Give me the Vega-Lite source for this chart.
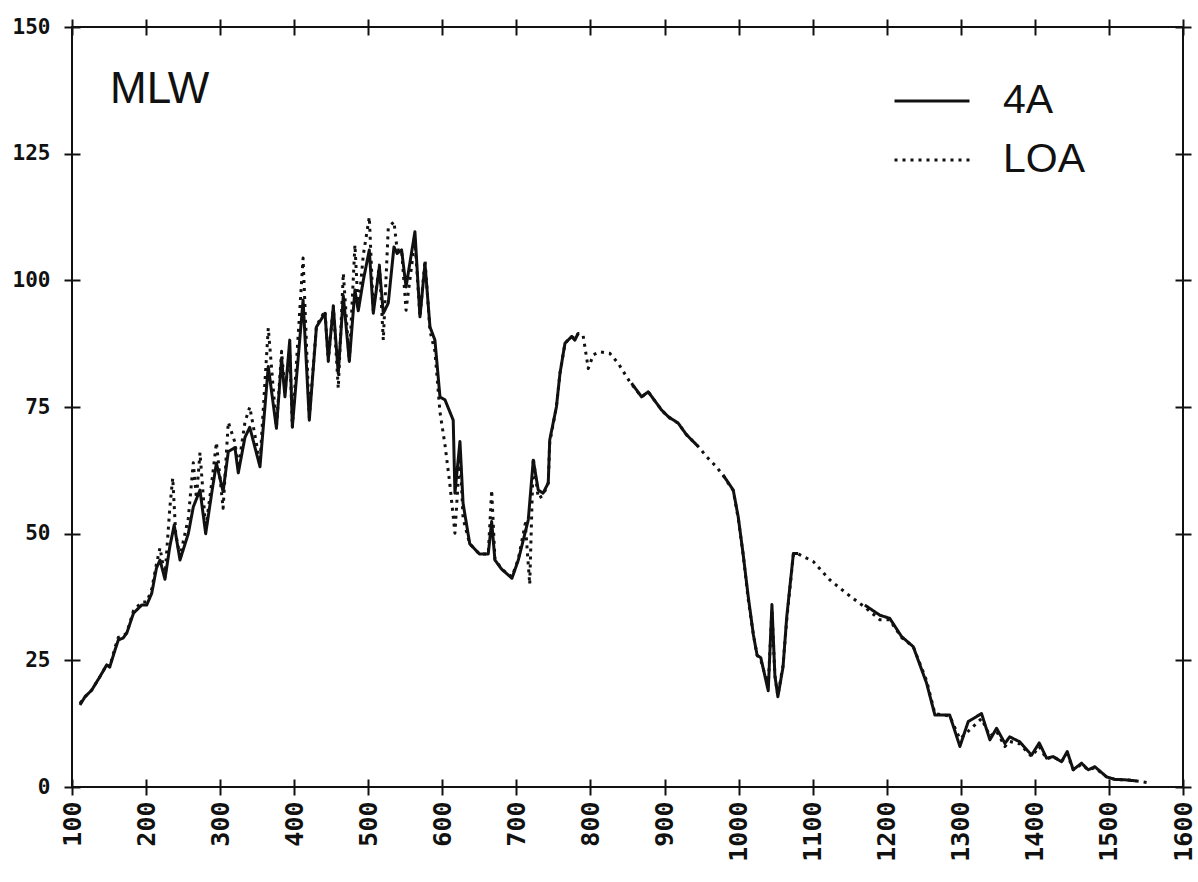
{
  "$schema": "https://vega.github.io/schema/vega-lite/v6.json",
  "width": 1111,
  "height": 760,
  "autosize": {"type": "none"},
  "padding": {"left": 72, "top": 27, "right": 15, "bottom": 95},
  "background": "white",
  "config": {
    "view": {"stroke": "#111", "strokeWidth": 2},
    "axis": {"grid": false, "domain": false, "title": null, "tickColor": "#111", "tickWidth": 2, "tickSize": 16, "labelColor": "#111", "labelFont": "DejaVu Sans Mono", "labelFontWeight": "bold", "labelFlush": false, "labelOverlap": false}
  },
  "title": {"text": "MLW", "anchor": "start", "frame": "group", "orient": "top", "offset": 0, "dx": 38, "dy": 131, "baseline": "alphabetic", "font": "Liberation Sans", "fontSize": 44, "fontWeight": "normal", "color": "#111"},
  "data": {"values": [
    {"w":110.8,"v":16.2,"s":"4A"},{"w":117.5,"v":17.8,"s":"4A"},{"w":126.5,"v":19.1,"s":"4A"},{"w":137.8,"v":21.8,"s":"4A"},{"w":146.8,"v":24.1,"s":"4A"},{"w":151,"v":23.7,"s":"4A"},{"w":158,"v":27,"s":"4A"},{"w":162.5,"v":29,"s":"4A"},{"w":169,"v":29.4,"s":"4A"},{"w":174,"v":30.4,"s":"4A"},{"w":183,"v":34.3,"s":"4A"},{"w":194,"v":35.9,"s":"4A"},{"w":200.8,"v":35.9,"s":"4A"},{"w":207.6,"v":38.2,"s":"4A"},{"w":214,"v":43.2,"s":"4A"},{"w":218.8,"v":44.8,"s":"4A"},{"w":225.5,"v":41,"s":"4A"},{"w":232,"v":47.4,"s":"4A"},{"w":238,"v":51.7,"s":"4A"},{"w":245.8,"v":44.8,"s":"4A"},{"w":257,"v":50,"s":"4A"},{"w":263.8,"v":55.3,"s":"4A"},{"w":272.8,"v":58.6,"s":"4A"},{"w":280.5,"v":50,"s":"4A"},{"w":288.6,"v":58,"s":"4A"},{"w":295,"v":63.9,"s":"4A"},{"w":304,"v":58.3,"s":"4A"},{"w":311,"v":66.2,"s":"4A"},{"w":320,"v":67,"s":"4A"},{"w":324.5,"v":62,"s":"4A"},{"w":333.5,"v":69,"s":"4A"},{"w":340,"v":71,"s":"4A"},{"w":353.8,"v":63.2,"s":"4A"},{"w":365,"v":83,"s":"4A"},{"w":376,"v":70.8,"s":"4A"},{"w":383,"v":84.6,"s":"4A"},{"w":387.5,"v":77,"s":"4A"},{"w":394,"v":88.2,"s":"4A"},{"w":397.5,"v":71.1,"s":"4A"},{"w":412,"v":96.1,"s":"4A"},{"w":420.4,"v":72.4,"s":"4A"},{"w":430,"v":90.8,"s":"4A"},{"w":441.6,"v":93.5,"s":"4A"},{"w":446,"v":84.3,"s":"4A"},{"w":452.8,"v":94.8,"s":"4A"},{"w":459.5,"v":81.6,"s":"4A"},{"w":466.3,"v":97,"s":"4A"},{"w":474.4,"v":84,"s":"4A"},{"w":482,"v":98.1,"s":"4A"},{"w":486.5,"v":94,"s":"4A"},{"w":493.3,"v":100,"s":"4A"},{"w":501.4,"v":106,"s":"4A"},{"w":506.8,"v":93.5,"s":"4A"},{"w":515,"v":102.7,"s":"4A"},{"w":520.3,"v":93.5,"s":"4A"},{"w":527,"v":95.5,"s":"4A"},{"w":534.7,"v":106.6,"s":"4A"},{"w":539,"v":105.3,"s":"4A"},{"w":545,"v":106,"s":"4A"},{"w":551,"v":98.7,"s":"4A"},{"w":563,"v":109.6,"s":"4A"},{"w":569.8,"v":92.8,"s":"4A"},{"w":576.6,"v":103.3,"s":"4A"},{"w":583.3,"v":90.8,"s":"4A"},{"w":590,"v":88.2,"s":"4A"},{"w":596.8,"v":77,"s":"4A"},{"w":603.6,"v":76.4,"s":"4A"},{"w":614.7,"v":72.4,"s":"4A"},{"w":617,"v":58,"s":"4A"},{"w":623.8,"v":68.2,"s":"4A"},{"w":628,"v":56,"s":"4A"},{"w":637,"v":48,"s":"4A"},{"w":650,"v":46,"s":"4A"},{"w":662,"v":46,"s":"4A"},{"w":666.6,"v":52.4,"s":"4A"},{"w":671,"v":44.8,"s":"4A"},{"w":680,"v":43,"s":"4A"},{"w":694,"v":41.2,"s":"4A"},{"w":702.6,"v":44.8,"s":"4A"},{"w":716,"v":52.7,"s":"4A"},{"w":722.8,"v":64.5,"s":"4A"},{"w":729.5,"v":58.6,"s":"4A"},{"w":736,"v":58,"s":"4A"},{"w":743,"v":60,"s":"4A"},{"w":745,"v":68.5,"s":"4A"},{"w":754,"v":75,"s":"4A"},{"w":758.8,"v":81.6,"s":"4A"},{"w":765.6,"v":87.6,"s":"4A"},{"w":774.6,"v":88.9,"s":"4A"},{"w":779,"v":88.2,"s":"4A"},{"w":783.5,"v":89.6,"s":"4A"},{"w":800,"v":null,"s":"4A"},{"w":855.5,"v":79.7,"s":"4A"},{"w":869,"v":77,"s":"4A"},{"w":878,"v":78,"s":"4A"},{"w":896,"v":74.4,"s":"4A"},{"w":905,"v":73.1,"s":"4A"},{"w":918.5,"v":71.8,"s":"4A"},{"w":929.8,"v":69.5,"s":"4A"},{"w":945.5,"v":67.2,"s":"4A"},{"w":960,"v":null,"s":"4A"},{"w":979,"v":61.6,"s":"4A"},{"w":992.8,"v":58.6,"s":"4A"},{"w":999.5,"v":53.3,"s":"4A"},{"w":1006,"v":46.1,"s":"4A"},{"w":1013,"v":37.6,"s":"4A"},{"w":1020,"v":30,"s":"4A"},{"w":1025,"v":26,"s":"4A"},{"w":1030,"v":25.5,"s":"4A"},{"w":1040,"v":19,"s":"4A"},{"w":1045,"v":36,"s":"4A"},{"w":1049,"v":22,"s":"4A"},{"w":1053,"v":17.8,"s":"4A"},{"w":1060,"v":23.7,"s":"4A"},{"w":1065,"v":33.6,"s":"4A"},{"w":1074,"v":46.1,"s":"4A"},{"w":1080.5,"v":46.1,"s":"4A"},{"w":1120,"v":null,"s":"4A"},{"w":1170.5,"v":35.9,"s":"4A"},{"w":1190.8,"v":33.9,"s":"4A"},{"w":1204,"v":33.3,"s":"4A"},{"w":1220,"v":29.7,"s":"4A"},{"w":1235.8,"v":27.7,"s":"4A"},{"w":1253.8,"v":20.5,"s":"4A"},{"w":1265,"v":14.2,"s":"4A"},{"w":1285,"v":14.2,"s":"4A"},{"w":1298.8,"v":8,"s":"4A"},{"w":1310,"v":12.9,"s":"4A"},{"w":1328,"v":14.5,"s":"4A"},{"w":1339.3,"v":9.3,"s":"4A"},{"w":1348.3,"v":11.6,"s":"4A"},{"w":1359.6,"v":8.6,"s":"4A"},{"w":1366,"v":9.9,"s":"4A"},{"w":1379.8,"v":8.9,"s":"4A"},{"w":1395.6,"v":6.3,"s":"4A"},{"w":1405.9,"v":8.7,"s":"4A"},{"w":1415.8,"v":5.7,"s":"4A"},{"w":1424.6,"v":6,"s":"4A"},{"w":1436,"v":5,"s":"4A"},{"w":1443.7,"v":7,"s":"4A"},{"w":1451.8,"v":3.4,"s":"4A"},{"w":1463,"v":4.7,"s":"4A"},{"w":1472,"v":3.4,"s":"4A"},{"w":1481,"v":4,"s":"4A"},{"w":1496.8,"v":2,"s":"4A"},{"w":1508,"v":1.5,"s":"4A"},{"w":1523.8,"v":1.4,"s":"4A"},{"w":1537,"v":1.2,"s":"4A"},
    {"w":110.8,"v":16.5,"s":"LOA"},{"w":117.5,"v":17.8,"s":"LOA"},{"w":126.5,"v":19.1,"s":"LOA"},{"w":137.8,"v":21.8,"s":"LOA"},{"w":146.8,"v":24.1,"s":"LOA"},{"w":151,"v":23.7,"s":"LOA"},{"w":158,"v":27.5,"s":"LOA"},{"w":162.5,"v":29.5,"s":"LOA"},{"w":169,"v":29.8,"s":"LOA"},{"w":174,"v":30.4,"s":"LOA"},{"w":183,"v":34.8,"s":"LOA"},{"w":194,"v":36.5,"s":"LOA"},{"w":200.8,"v":36.5,"s":"LOA"},{"w":207.6,"v":39,"s":"LOA"},{"w":214,"v":44,"s":"LOA"},{"w":218.8,"v":47.2,"s":"LOA"},{"w":225.5,"v":41.5,"s":"LOA"},{"w":232,"v":55,"s":"LOA"},{"w":236,"v":61,"s":"LOA"},{"w":240,"v":50,"s":"LOA"},{"w":245.8,"v":45.5,"s":"LOA"},{"w":257,"v":53,"s":"LOA"},{"w":263.8,"v":64,"s":"LOA"},{"w":268,"v":57,"s":"LOA"},{"w":272.8,"v":66,"s":"LOA"},{"w":280.5,"v":51,"s":"LOA"},{"w":288.6,"v":60,"s":"LOA"},{"w":295,"v":68,"s":"LOA"},{"w":304,"v":55,"s":"LOA"},{"w":311,"v":72,"s":"LOA"},{"w":320,"v":68,"s":"LOA"},{"w":324.5,"v":63,"s":"LOA"},{"w":333.5,"v":72,"s":"LOA"},{"w":340,"v":75,"s":"LOA"},{"w":353.8,"v":64,"s":"LOA"},{"w":365,"v":90.6,"s":"LOA"},{"w":376,"v":71,"s":"LOA"},{"w":383,"v":86,"s":"LOA"},{"w":387.5,"v":78,"s":"LOA"},{"w":394,"v":86,"s":"LOA"},{"w":397.5,"v":71,"s":"LOA"},{"w":412,"v":104.4,"s":"LOA"},{"w":420.4,"v":73,"s":"LOA"},{"w":430,"v":91,"s":"LOA"},{"w":441.6,"v":94,"s":"LOA"},{"w":446,"v":84,"s":"LOA"},{"w":452.8,"v":95,"s":"LOA"},{"w":459.5,"v":78.7,"s":"LOA"},{"w":466.3,"v":101.4,"s":"LOA"},{"w":474.4,"v":84,"s":"LOA"},{"w":482,"v":107,"s":"LOA"},{"w":486.5,"v":94,"s":"LOA"},{"w":493.3,"v":105,"s":"LOA"},{"w":501.4,"v":112.5,"s":"LOA"},{"w":506.8,"v":94,"s":"LOA"},{"w":515,"v":103,"s":"LOA"},{"w":520.3,"v":88.2,"s":"LOA"},{"w":527,"v":110.3,"s":"LOA"},{"w":534.7,"v":111.6,"s":"LOA"},{"w":539,"v":106,"s":"LOA"},{"w":545,"v":106,"s":"LOA"},{"w":551,"v":94.1,"s":"LOA"},{"w":563,"v":108,"s":"LOA"},{"w":569.8,"v":92.8,"s":"LOA"},{"w":576.6,"v":104,"s":"LOA"},{"w":583.3,"v":90,"s":"LOA"},{"w":590,"v":86,"s":"LOA"},{"w":596.8,"v":74,"s":"LOA"},{"w":603.6,"v":67.5,"s":"LOA"},{"w":610,"v":60,"s":"LOA"},{"w":617,"v":50.1,"s":"LOA"},{"w":623.8,"v":66,"s":"LOA"},{"w":628,"v":53,"s":"LOA"},{"w":637,"v":48,"s":"LOA"},{"w":650,"v":46,"s":"LOA"},{"w":662,"v":46,"s":"LOA"},{"w":666.6,"v":58.6,"s":"LOA"},{"w":671,"v":45,"s":"LOA"},{"w":680,"v":43,"s":"LOA"},{"w":694,"v":41.5,"s":"LOA"},{"w":702.6,"v":45,"s":"LOA"},{"w":712,"v":52,"s":"LOA"},{"w":718,"v":40,"s":"LOA"},{"w":722.8,"v":65,"s":"LOA"},{"w":729.5,"v":57,"s":"LOA"},{"w":736,"v":57.5,"s":"LOA"},{"w":743,"v":60,"s":"LOA"},{"w":745,"v":68,"s":"LOA"},{"w":754,"v":75,"s":"LOA"},{"w":758.8,"v":81.6,"s":"LOA"},{"w":765.6,"v":87.6,"s":"LOA"},{"w":774.6,"v":88.9,"s":"LOA"},{"w":779,"v":88.5,"s":"LOA"},{"w":783.5,"v":89.5,"s":"LOA"},{"w":790,"v":89.2,"s":"LOA"},{"w":797,"v":82.6,"s":"LOA"},{"w":803.8,"v":85.3,"s":"LOA"},{"w":812.8,"v":85.9,"s":"LOA"},{"w":826,"v":85.6,"s":"LOA"},{"w":837.5,"v":83.6,"s":"LOA"},{"w":853,"v":80,"s":"LOA"},{"w":869,"v":77,"s":"LOA"},{"w":878,"v":78,"s":"LOA"},{"w":896,"v":74.4,"s":"LOA"},{"w":905,"v":73,"s":"LOA"},{"w":918.5,"v":71.8,"s":"LOA"},{"w":929.8,"v":69.5,"s":"LOA"},{"w":945.5,"v":67.2,"s":"LOA"},{"w":956.8,"v":65.2,"s":"LOA"},{"w":970,"v":63.2,"s":"LOA"},{"w":979,"v":61.5,"s":"LOA"},{"w":992.8,"v":58.5,"s":"LOA"},{"w":999.5,"v":53,"s":"LOA"},{"w":1006,"v":46,"s":"LOA"},{"w":1013,"v":37,"s":"LOA"},{"w":1020,"v":30,"s":"LOA"},{"w":1025,"v":26,"s":"LOA"},{"w":1030,"v":25,"s":"LOA"},{"w":1040,"v":20,"s":"LOA"},{"w":1045,"v":35,"s":"LOA"},{"w":1049,"v":22,"s":"LOA"},{"w":1053,"v":18,"s":"LOA"},{"w":1060,"v":24,"s":"LOA"},{"w":1065,"v":33,"s":"LOA"},{"w":1074,"v":46,"s":"LOA"},{"w":1080.5,"v":46,"s":"LOA"},{"w":1100.8,"v":44.5,"s":"LOA"},{"w":1123,"v":40.9,"s":"LOA"},{"w":1145.8,"v":38.2,"s":"LOA"},{"w":1163.8,"v":36.2,"s":"LOA"},{"w":1170.5,"v":35.5,"s":"LOA"},{"w":1190.8,"v":33,"s":"LOA"},{"w":1204,"v":33,"s":"LOA"},{"w":1220,"v":29.5,"s":"LOA"},{"w":1235.8,"v":27.7,"s":"LOA"},{"w":1253.8,"v":21,"s":"LOA"},{"w":1265,"v":14.5,"s":"LOA"},{"w":1285,"v":14,"s":"LOA"},{"w":1298.8,"v":9.5,"s":"LOA"},{"w":1310,"v":11,"s":"LOA"},{"w":1328,"v":13.5,"s":"LOA"},{"w":1339.3,"v":10,"s":"LOA"},{"w":1348.3,"v":11,"s":"LOA"},{"w":1359.6,"v":8,"s":"LOA"},{"w":1366,"v":9,"s":"LOA"},{"w":1379.8,"v":8.5,"s":"LOA"},{"w":1395.6,"v":6,"s":"LOA"},{"w":1405.9,"v":8,"s":"LOA"},{"w":1415.8,"v":5.5,"s":"LOA"},{"w":1424.6,"v":6,"s":"LOA"},{"w":1436,"v":5,"s":"LOA"},{"w":1443.7,"v":6.5,"s":"LOA"},{"w":1451.8,"v":3.4,"s":"LOA"},{"w":1463,"v":4.5,"s":"LOA"},{"w":1472,"v":3.4,"s":"LOA"},{"w":1481,"v":3.8,"s":"LOA"},{"w":1496.8,"v":2,"s":"LOA"},{"w":1508,"v":1.5,"s":"LOA"},{"w":1523.8,"v":1.4,"s":"LOA"},{"w":1537,"v":1.2,"s":"LOA"},{"w":1551,"v":0.9,"s":"LOA"}
  ]},
  "layer": [
    {
      "mark": {"type": "line", "color": "#111", "strokeWidth": 3, "strokeJoin": "round", "invalid": "break-paths-filter-domains"},
      "encoding": {
        "x": {"field": "w", "type": "quantitative", "scale": {"domain": [100, 1600], "nice": false, "zero": false},
              "axis": {"orient": "bottom", "offset": -8, "values": [100,200,300,400,500,600,700,800,900,1000,1100,1200,1300,1400,1500,1600], "format": "d", "labelAngle": -90, "labelAlign": "right", "labelBaseline": "middle", "labelPadding": 6, "labelFontSize": 25}},
        "y": {"field": "v", "type": "quantitative", "scale": {"domain": [0, 150], "nice": false},
              "axis": {"orient": "left", "offset": -8, "values": [0,25,50,75,100,125,150], "format": "d", "labelPadding": 14, "labelFontSize": 21, "labelBaseline": "middle"}},
        "strokeDash": {"field": "s", "type": "nominal", "scale": {"domain": ["4A", "LOA"], "range": [[1, 0], [3, 5]]},
              "legend": {"orient": "none", "legendX": 821, "legendY": 35, "title": null, "padding": 0, "symbolType": "stroke", "symbolSize": 5625, "symbolStrokeWidth": 3, "symbolStrokeColor": "#111", "labelFont": "Liberation Sans", "labelFontSize": 41, "labelColor": "#111", "labelOffset": 32, "rowPadding": -15, "labelLimit": 300}}
      }
    },
    {
      "mark": {"type": "point", "opacity": 0},
      "encoding": {
        "x": {"field": "w", "type": "quantitative", "scale": {"domain": [100, 1600], "nice": false, "zero": false},
              "axis": {"orient": "top", "offset": -8, "values": [100,200,300,400,500,600,700,800,900,1000,1100,1200,1300,1400,1500,1600], "labels": false}},
        "y": {"field": "v", "type": "quantitative", "scale": {"domain": [0, 150], "nice": false},
              "axis": {"orient": "right", "offset": -8, "values": [0,25,50,75,100,125,150], "labels": false}}
      }
    }
  ],
  "resolve": {"axis": {"x": "independent", "y": "independent"}}
}
